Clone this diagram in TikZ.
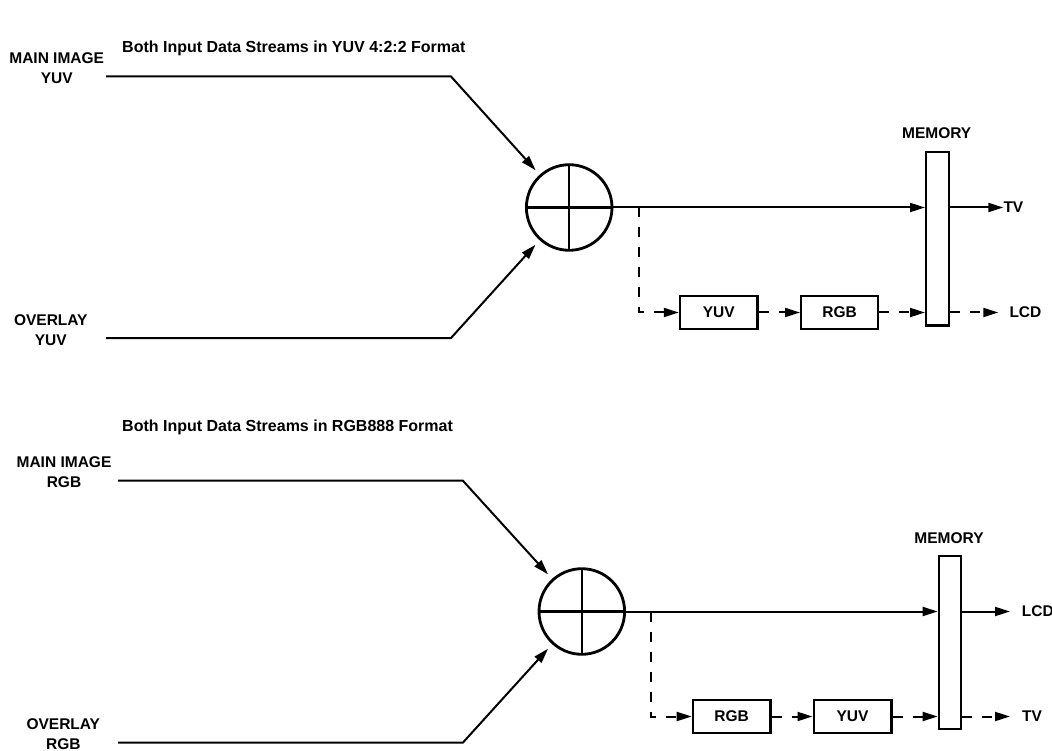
\documentclass[tikz,border=0pt]{standalone}
\usepackage{fontspec}
\setmainfont{Liberation Sans}
\usetikzlibrary{arrows.meta}
\begin{document}
\begin{tikzpicture}[x=1pt,y=-1pt,
  lbl/.style={font=\fontsize{15.5}{20}\selectfont\bfseries, inner sep=0pt, align=center},
  ttl/.style={font=\fontsize{16}{19}\selectfont\bfseries, inner sep=0pt},
  conn/.style={line width=2pt, -{Triangle[length=15pt,width=9pt]}},
  dconn/.style={conn, dash pattern=on 10pt off 10pt},
  sumnode/.style={circle, draw, line width=2.8pt, minimum size=85.6pt, inner sep=0pt,
    path picture={\draw[line width=2.2pt] (path picture bounding box.north) -- (path picture bounding box.south)
      (path picture bounding box.west) -- (path picture bounding box.east);}},
  box/.style={draw, line width=2.4pt, minimum width=77.6pt, minimum height=32.6pt, inner sep=0pt,
    font=\fontsize{15.5}{18}\selectfont\bfseries},
  mem/.style={draw, line width=2.4pt, minimum width=22.6pt, minimum height=173.2pt, inner sep=0pt}
]
\useasboundingbox (0,0) rectangle (1052,751);

% ---------- top diagram ----------
\node[ttl, anchor=base west] (t1) at (122,53) {Both Input Data Streams in YUV 4:2:2 Format};
\node[lbl] (in1) at (56.7,68.5) {MAIN IMAGE\\YUV};
\node[lbl] (ov1) at (50.8,330.2) {OVERLAY\\YUV};
\coordinate (a1) at (106,76.5);
\coordinate (a1b) at (451,76.5);
\coordinate (b1) at (106,338);
\coordinate (b1b) at (451,338);
\node[sumnode] (s1) at (569.2,207.5) {};
\node[mem] (m1) at (937.5,238.8) {};
\node[lbl] (ml1) at (936.7,133.3) {MEMORY};
\node[box] (yuv1) at (718.8,312.5) {YUV};
\node[box, minimum width=76.9pt] (rgb1) at (839.7,312.5) {RGB};
\node[lbl, anchor=west] (tv1) at (1003.3,207.5) {TV};
\node[lbl, anchor=west, inner xsep=11pt] (lcd1) at (998.3,312.5) {LCD};
\coordinate (br1) at (639,207.5);
\coordinate (cr1) at (639,312.5);

\draw[conn, shorten >=6pt] (a1) -- (a1b) -- (s1);
\draw[conn, shorten >=6pt] (b1) -- (b1b) -- (s1);
\draw[conn] (s1.east) -- (m1.west |- s1);
\draw[conn] (m1.east |- s1) -- (tv1.west);
\draw[dconn] (br1) -- (cr1) -- (yuv1.west);
\draw[dconn] (yuv1.east) -- (rgb1.west);
\draw[dconn] (rgb1.east) -- (m1.west |- rgb1);
\draw[dconn] (m1.east |- rgb1) -- (lcd1.west);

% ---------- bottom diagram ----------
\node[ttl, anchor=base west] (t2) at (122,431) {Both Input Data Streams in RGB888 Format};
\node[lbl] (in2) at (64,472) {MAIN IMAGE\\RGB};
\node[lbl] (ov2) at (63.3,734.2) {OVERLAY\\RGB};
\coordinate (a2) at (118,480.5);
\coordinate (a2b) at (462.7,480.5);
\coordinate (b2) at (118,742.5);
\coordinate (b2b) at (463,742.5);
\node[sumnode] (s2) at (581.8,611.5) {};
\node[mem, minimum width=22.3pt] (m2) at (950,642.5) {};
\node[lbl] (ml2) at (949,538.3) {MEMORY};
\node[box] (rgb2) at (731.7,716.5) {RGB};
\node[box] (yuv2) at (852.5,716.5) {YUV};
\node[lbl, anchor=west, inner xsep=11.7pt] (lcd2) at (1010,611.5) {LCD};
\node[lbl, anchor=west, inner xsep=12pt] (tv2) at (1010,716.5) {TV};
\coordinate (br2) at (651,611.5);
\coordinate (cr2) at (651,716.5);

\draw[conn, shorten >=6pt] (a2) -- (a2b) -- (s2);
\draw[conn, shorten >=6pt] (b2) -- (b2b) -- (s2);
\draw[conn] (s2.east) -- (m2.west |- s2);
\draw[conn] (m2.east |- s2) -- (lcd2.west);
\draw[dconn] (br2) -- (cr2) -- (rgb2.west);
\draw[dconn] (rgb2.east) -- (yuv2.west);
\draw[dconn] (yuv2.east) -- (m2.west |- yuv2);
\draw[dconn] (m2.east |- yuv2) -- (tv2.west);
\end{tikzpicture}
\end{document}
